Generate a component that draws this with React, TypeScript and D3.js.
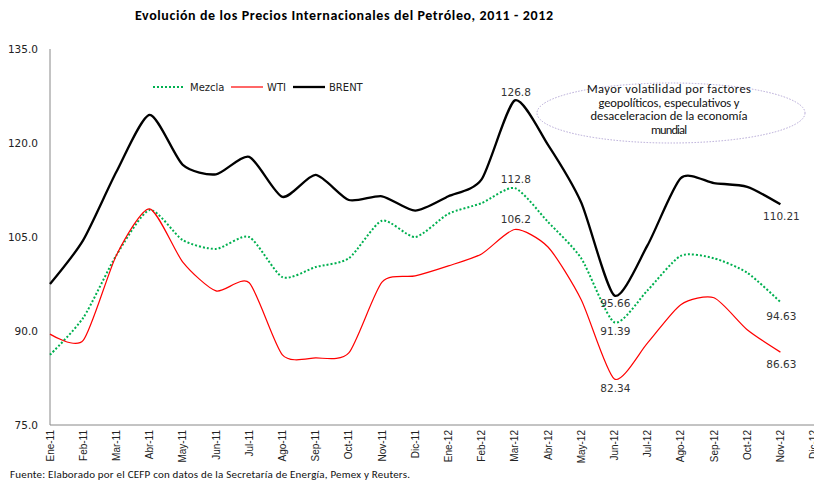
import React from "react";
import * as d3 from "d3";

const categories = ["Ene-11","Feb-11","Mar-11","Abr-11","May-11","Jun-11","Jul-11","Ago-11","Sep-11","Oct-11","Nov-11","Dic-11","Ene-12","Feb-12","Mar-12","Abr-12","May-12","Jun-12","Jul-12","Ago-12","Sep-12","Oct-12","Nov-12","Dic-12"];
const mezcla = [86.2,92.1,102.1,109.3,104.5,103.1,105.0,98.6,100.2,101.6,107.6,105.0,108.7,110.4,112.8,107.4,101.6,91.39,96.5,102.0,101.6,99.3,94.63];
const wti = [89.5,88.5,102.1,109.5,101.0,96.4,97.7,86.2,85.7,86.5,97.8,98.8,100.4,102.3,106.2,103.4,95.0,82.34,88.1,94.2,95.3,90.2,86.63];
const brent = [97.5,104.5,115.4,124.5,116.5,115.0,117.8,111.4,114.9,110.9,111.5,109.2,111.5,114.2,126.8,119.7,110.5,95.66,103.7,114.4,113.6,113.0,110.21];
const yTicks = [75, 90, 105, 120, 135];
const labels = [
  { series: "brent", idx: 14, text: "126.8", dy: -4 },
  { series: "mezcla", idx: 14, text: "112.8", dy: -5 },
  { series: "wti", idx: 14, text: "106.2", dy: -6 },
  { series: "brent", idx: 17, text: "95.66", dy: 11 },
  { series: "mezcla", idx: 17, text: "91.39", dy: 13 },
  { series: "wti", idx: 17, text: "82.34", dy: 13 },
  { series: "mezcla", idx: 22, text: "94.63", dy: 18 },
  { series: "wti", idx: 22, text: "86.63", dy: 16 },
  { series: "brent", idx: 22, text: "110.21", dy: 16 },
];
const noteLines = ["Mayor volatilidad por factores", "geopolíticos, especulativos y", "desaceleracion de la economía", "mundial"];
const noteWidths = [164, 141, 157, 36];

export default function App() {
  const W = 814, H = 480;
  const x = d3.scalePoint<string>().domain(categories).range([50, 50 + 33.2 * 23]);
  const y = d3.scaleLinear().domain([75, 135]).range([425, 49]);
  const line = d3.line<number>().x((_, i) => x(categories[i])!).y(d => y(d)).curve(d3.curveCardinal.tension(0.3));
  const seriesMap: Record<string, number[]> = { mezcla, wti, brent };
  const font = "DejaVu Sans, Verdana, sans-serif";
  const calibri = "Carlito, Lato, 'Open Sans', sans-serif";
  return (
    <svg width={W} height={H} style={{ position: "absolute", left: 0, top: 0, background: "#fff" }}>
      <text x={135} y={20} textLength={418} lengthAdjust="spacing" fontFamily={calibri} fontWeight="bold" fontSize={14} fill="#000">
        Evolución de los Precios Internacionales del Petróleo, 2011 - 2012
      </text>
      {/* axes */}
      <line x1={50} y1={49} x2={50} y2={425} stroke="#888" strokeWidth={1} />
      <line x1={50} y1={425} x2={814} y2={425} stroke="#888" strokeWidth={1} />
      {yTicks.map(t => (
        <text key={t} x={38} y={y(t) + 4} textAnchor="end" fontFamily={font} fontSize={10.5} fill="#222">{t.toFixed(1)}</text>
      ))}
      {categories.map(c => (
        <text key={c} transform={`translate(${x(c)! + 3.5},${430}) rotate(-90)`} textAnchor="end" fontFamily="'Liberation Sans Narrow', 'Arial Narrow', 'Liberation Sans', sans-serif" fontSize={10} fill="#222">{c}</text>
      ))}
      {/* lines */}
      <path d={line(mezcla)!} fill="none" stroke="#00b050" strokeWidth={2} strokeDasharray="2,2" />
      <path d={line(wti)!} fill="none" stroke="#ff0000" strokeWidth={1.2} />
      <path d={line(brent)!} fill="none" stroke="#000" strokeWidth={2.3} />
      {/* data labels */}
      {labels.map((l, i) => (
        <text key={i} x={x(categories[l.idx])! + 1} y={y(seriesMap[l.series][l.idx]) + l.dy} textAnchor="middle" fontFamily={font} fontSize={10.5} fill="#333">{l.text}</text>
      ))}
      {/* legend */}
      <line x1={153} y1={87} x2={185} y2={87} stroke="#00b050" strokeWidth={2} strokeDasharray="2,2" />
      <text x={190} y={91} fontFamily={font} fontSize={10} fill="#222">Mezcla</text>
      <line x1={231} y1={87} x2={263} y2={87} stroke="#ff0000" strokeWidth={1.2} />
      <text x={267} y={91} fontFamily={font} fontSize={10} fill="#222">WTI</text>
      <line x1={293} y1={87} x2={325} y2={87} stroke="#000" strokeWidth={2.3} />
      <text x={329} y={91} fontFamily={font} fontSize={10} fill="#222">BRENT</text>
      {/* annotation */}
      <ellipse cx={671} cy={113} rx={134} ry={30} fill="none" stroke="#b4a7d6" strokeWidth={1} strokeDasharray="1.5,1.5" />
      {noteLines.map((t, i) => (
        <text key={i} x={669 - noteWidths[i] / 2} y={93 + i * 13.5} textLength={noteWidths[i]} lengthAdjust="spacing" fontFamily={calibri} fontSize={12.5} fill="#111">{t}</text>
      ))}
      <text x={10} y={478} textLength={400} lengthAdjust="spacing" fontFamily={calibri} fontSize={11} fill="#111">Fuente: Elaborado por el CEFP con datos de la Secretaría de Energía, Pemex y Reuters.</text>
    </svg>
  );
}
